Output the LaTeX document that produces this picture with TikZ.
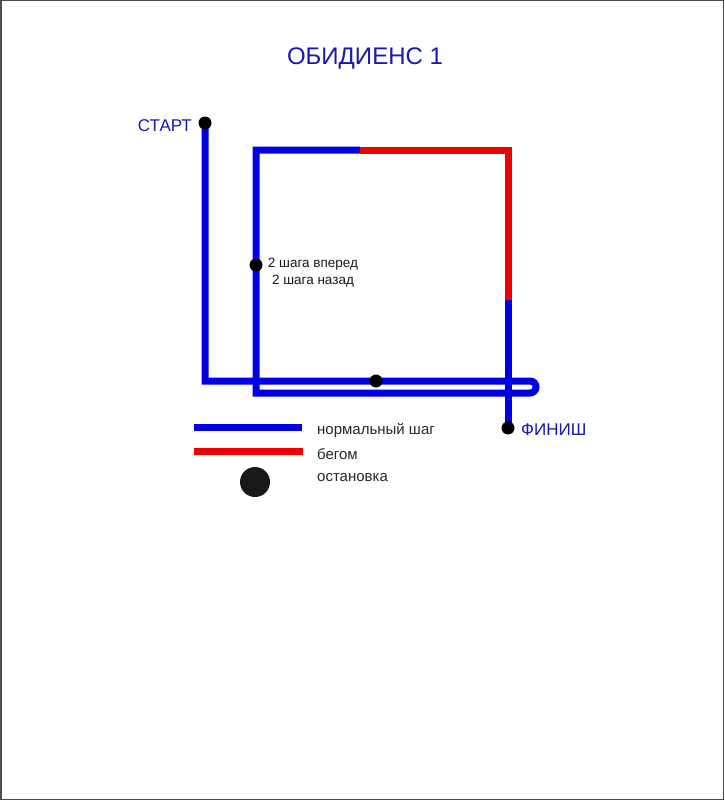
\documentclass[tikz,border=0pt]{standalone}
\usepackage{fontspec}
\setmainfont{Liberation Sans}
\definecolor{pathblue}{RGB}{0,0,230}
\definecolor{pathred}{RGB}{240,0,0}
\definecolor{labelblue}{RGB}{25,25,170}
\begin{document}
\begin{tikzpicture}[x={(1pt,0pt)},y={(0pt,-1pt)},
  walk/.style={draw=pathblue, line width=7pt, line join=miter},
  run/.style={draw=pathred, line width=7pt, line join=miter},
  stopdot/.style={circle, fill=black, inner sep=0pt, minimum size=13pt},
  bigdot/.style={circle, fill=black!90, inner sep=0pt, minimum size=30pt},
  lbl/.style={text=labelblue, inner sep=0pt, font=\fontsize{17}{17}\selectfont},
  legtext/.style={text=black!85, inner sep=0pt, anchor=base west, font=\fontsize{15}{15}\selectfont}]
\useasboundingbox (0,0) rectangle (724,800);
\fill[white] (0,0) rectangle (724,800);
\draw[black!70, line width=1.5pt] (0.75,0.75) rectangle (723.25,799.25);

% title
\node[text=labelblue, inner sep=0pt, anchor=base, font=\fontsize{24}{24}\selectfont] (title) at (365,65) {ОБИДИЕНС 1};

% route positions
\coordinate (pS) at (205,123);
\coordinate (c1) at (205,381);
\coordinate (u1) at (530,381);
\coordinate (c2) at (256,393);
\coordinate (c3) at (256,150);
\coordinate (sw) at (360,150);
\coordinate (c4) at (508,150);
\coordinate (sw2) at (508,300);
\coordinate (pF) at (508,428);
\coordinate (pM) at (376,381);
\coordinate (pL) at (256,265);

% route
\draw[walk] (pS) -- (c1) -- (u1) arc[start angle=-90, end angle=90, radius=6] -- (c2) -- (c3) -- (sw);
\draw[run] (sw) -- (c4) -- (sw2);
\draw[walk] (sw2) -- (pF);

% stops
\node[stopdot] (start) at (pS) {};
\node[stopdot] (finish) at (pF) {};
\node[stopdot] (stopM) at (pM) {};
\node[stopdot] (stopL) at (pL) {};

% labels
\node[lbl, anchor=base east] (startlbl) at (192,131) {СТАРТ};
\node[lbl, anchor=base west] (finishlbl) at (521,435) {ФИНИШ};
\node[inner sep=0pt, anchor=north, align=center, text=black!90,
      font=\fontsize{13.5}{16.5}\selectfont] (steps) at (313,258) {2 шага вперед\\2 шага назад};

% legend
\coordinate (lb1) at (194,427);
\coordinate (lb2) at (302,427);
\coordinate (lr1) at (194,451);
\coordinate (lr2) at (303,451);
\draw[walk] (lb1) -- (lb2);
\draw[run] (lr1) -- (lr2);
\node[bigdot] (legdot) at (255,482) {};
\node[legtext] (t1) at (317,434) {нормальный шаг};
\node[legtext] (t2) at (317,459) {бегом};
\node[legtext] (t3) at (317,481) {остановка};
\end{tikzpicture}
\end{document}
